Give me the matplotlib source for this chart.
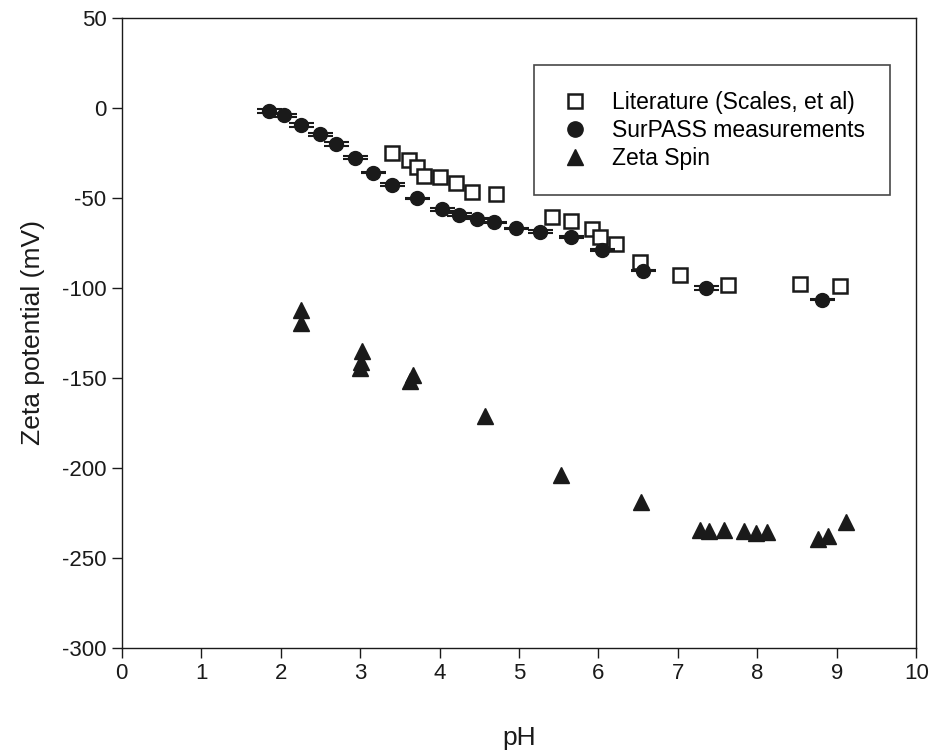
import numpy as np
import matplotlib.pyplot as plt
from matplotlib.lines import Line2D

plt.rcParams['font.family'] = ['Liberation Sans', 'DejaVu Sans']
plt.rcParams['axes.unicode_minus'] = False

# Literature values (Scales, et al)
lit_ph = [3.40, 3.61, 3.71, 3.81, 4.00, 4.21, 4.41, 4.71, 5.42, 5.65,
          5.92, 6.02, 6.22, 6.52, 7.03, 7.63, 8.54, 9.04]
lit_zeta = [-25.2, -28.9, -32.6, -37.6, -38.5, -41.5, -46.9, -47.6, -60.5, -62.8,
            -67.4, -71.5, -75.7, -85.4, -92.8, -98.1, -97.8, -99.1]

# SurPASS measurements with standard deviation
sur_ph = [1.855, 2.04, 2.26, 2.49, 2.70, 2.93, 3.16, 3.40, 3.71, 4.03,
          4.24, 4.47, 4.69, 4.96, 5.26, 5.66, 6.05, 6.56, 7.35, 8.81]
sur_zeta = [-1.5, -4.0, -9.5, -14.6, -20.0, -27.6, -36.0, -42.6, -50.2, -56.3,
            -59.4, -61.5, -63.5, -66.8, -68.7, -71.7, -78.9, -90.4, -100.2, -106.5]
sur_err = [1.0, 0.8, 1.0, 1.0, 1.0, 1.0, 0.2, 1.0, 0.2, 0.8,
           0.8, 0.3, 0.3, 0.3, 0.8, 0.3, 0.5, 0.2, 1.0, 0.2]

# Zeta Spin
spin_ph = [2.26, 2.26, 3.03, 3.01, 3.00, 3.67, 3.63, 4.57, 5.53, 6.53,
           7.28, 7.39, 7.58, 7.83, 7.98, 8.12, 8.76, 8.89, 9.11]
spin_zeta = [-112.0, -119.6, -135.0, -141.0, -144.6, -148.3, -152.0, -171.0, -203.9, -219.0,
             -234.4, -235.0, -234.6, -235.0, -236.0, -235.7, -239.6, -237.8, -230.4]

ink = '#1a1a1a'

fig = plt.figure(figsize=(9.36, 7.54), dpi=100)
ax = fig.add_axes([0.130, 0.141, 0.849, 0.835])

ax.plot(lit_ph, lit_zeta, 's', markersize=10, markerfacecolor='white',
        markeredgecolor=ink, markeredgewidth=1.8, linestyle='none', zorder=3)
ax.errorbar(sur_ph, sur_zeta, yerr=sur_err, fmt='o', markersize=10,
            color=ink, ecolor=ink, elinewidth=1.5, capsize=9, capthick=1.5, zorder=4)
ax.plot(spin_ph, spin_zeta, '^', markersize=12, color=ink, linestyle='none', zorder=3)

ax.set_xlim(0, 10)
ax.set_ylim(-300, 50)
ax.set_xticks(np.arange(0, 11, 1))
ax.set_yticks(np.arange(-300, 51, 50))
ax.tick_params(direction='out', length=7, width=1, labelsize=16, colors=ink,
               top=False, right=False, pad=4)
for s in ax.spines.values():
    s.set_linewidth(1)
    s.set_color(ink)

ax.set_xlabel('pH', fontsize=19, labelpad=30, color=ink)
ax.set_ylabel('Zeta potential (mV)', fontsize=19, labelpad=12, color=ink)

handles = [
    Line2D([], [], marker='s', linestyle='none', markersize=10, markerfacecolor='white',
           markeredgecolor=ink, markeredgewidth=1.8),
    Line2D([], [], marker='o', linestyle='none', markersize=11, color=ink),
    Line2D([], [], marker='^', linestyle='none', markersize=11, color=ink),
]
labels = ['Literature (Scales, et al)', 'SurPASS measurements', 'Zeta Spin']
leg = ax.legend(handles, labels, loc='upper right', bbox_to_anchor=(0.967, 0.925),
                fontsize=16.5, frameon=True, fancybox=False, edgecolor=ink,
                handletextpad=0.9, borderpad=1.1, labelspacing=0.22,
                borderaxespad=0, handlelength=1.4)
leg.get_frame().set_linewidth(1.2)

fig.savefig('out.png', dpi=100)
